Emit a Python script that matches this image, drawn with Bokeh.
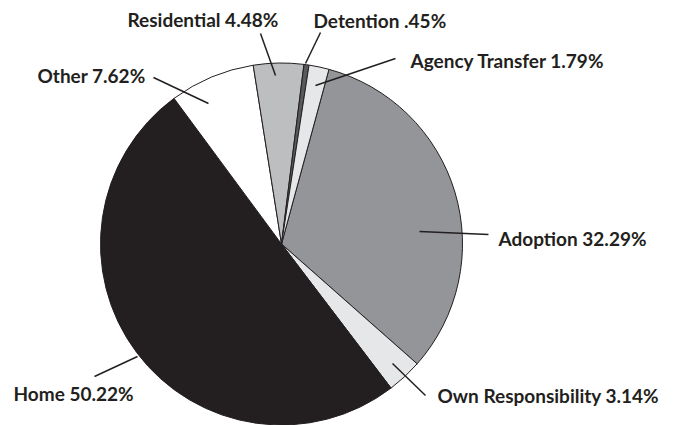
import math
from bokeh.plotting import figure
from bokeh.models import Range1d, ColumnDataSource
from bokeh.core.properties import value
from bokeh.embed import file_html
from bokeh.resources import INLINE

# ---- data (clockwise order, starting at Adoption) ----
categories = ["Adoption", "Own Responsibility", "Home", "Other",
              "Residential", "Detention", "Agency Transfer"]
percents = [32.29, 3.14, 50.22, 7.62, 4.48, 0.45, 1.79]
label_texts = ["Adoption 32.29%", "Own Responsibility 3.14%", "Home 50.22%",
               "Other 7.62%", "Residential 4.48%", "Detention .45%",
               "Agency Transfer 1.79%"]
colors = ["#939598", "#e6e7e8", "#231f20", "#ffffff",
          "#bcbec0", "#58595b", "#e6e7e8"]

# ---- layout (page pixels, y measured from top) ----
W, H = 678, 425
CX, CY, R = 281, 243.5, 181
START_CW_FROM_TOP = 15.2  # degrees, clockwise from 12 o'clock
label_pos = [(498, 238), (437, 395), (13, 393), (37, 75),
             (127, 19), (313, 20), (410, 60)]
leaders = [((419, 231), (488, 234)), ((392, 363), (425, 395)),
           ((94, 376), (137, 356)), ((153, 77), (208, 103)),
           ((260, 33), (275, 75)), ((320, 32), (305, 63)),
           ((395, 58), (315, 85))]

total = sum(percents)
starts, ends = [], []
acc = START_CW_FROM_TOP
for p in percents:
    a0 = acc
    a1 = acc + p / total * 360.0
    starts.append(math.radians(90 - a0))
    ends.append(math.radians(90 - a1))
    acc = a1

src = ColumnDataSource(dict(cat=categories, start=starts, end=ends, color=colors))

p = figure(width=W, height=H, output_backend="svg", toolbar_location=None,
           x_range=Range1d(0, W), y_range=Range1d(0, H), min_border=0)
p.axis.visible = False
p.grid.visible = False
p.outline_line_color = None
p.background_fill_color = "white"

p.wedge(x=CX, y=H - CY, radius=R, start_angle="start", end_angle="end",
        direction="clock", fill_color="color", line_color="#231f20",
        line_width=1, source=src)

for (a, b) in leaders:
    p.line([a[0], b[0]], [H - a[1], H - b[1]], line_color="#231f20", line_width=1.5)

lsrc = ColumnDataSource(dict(x=[q[0] for q in label_pos],
                             y=[H - q[1] for q in label_pos],
                             t=label_texts))
p.text(x="x", y="y", text="t", source=lsrc, text_font=value("Lato"),
       text_font_style="bold", text_font_size="19px", text_color="#231f20",
       text_align="left", text_baseline="middle")

open("out.html", "w").write(file_html(p, INLINE))
